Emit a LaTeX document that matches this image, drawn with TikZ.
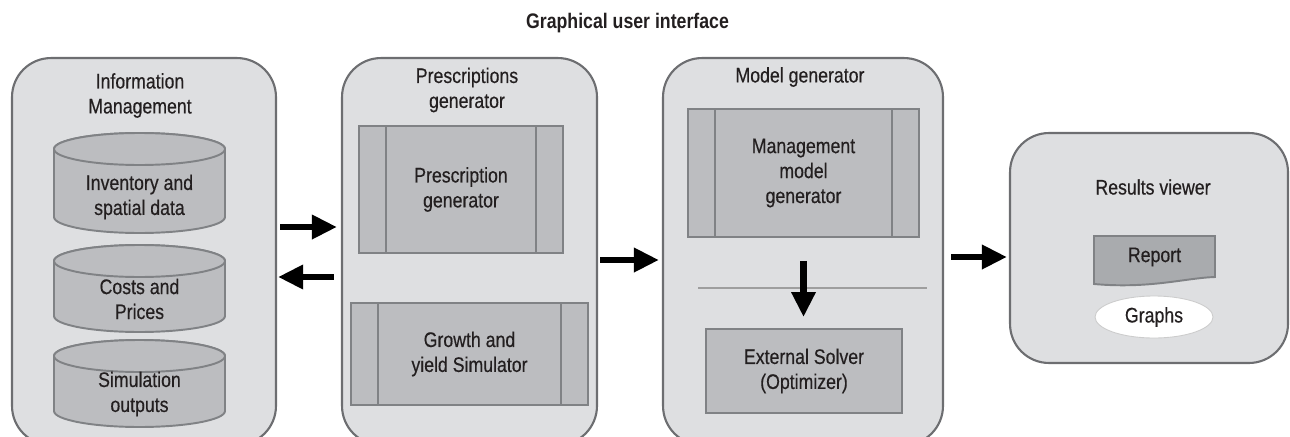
\documentclass[tikz,border=0pt]{standalone}
\usepackage{fontspec}
\setmainfont{Liberation Sans}[FakeStretch=0.84, FakeBold=0.4]
\newfontfamily\titlefont{Liberation Sans}[FakeStretch=0.84]
\usepackage{tikz}
\usetikzlibrary{shapes.geometric,arrows.meta}

\definecolor{panelfill}{HTML}{DEDFE1}
\definecolor{paneldraw}{HTML}{6D6E71}
\definecolor{boxfill}{HTML}{BCBDC0}
\definecolor{boxdraw}{HTML}{808285}
\definecolor{docfill}{HTML}{A9ABAE}
\definecolor{inkcol}{HTML}{231F20}

\begin{document}
\begin{tikzpicture}[x=0.02cm, y=-0.02cm,
    txt/.style={font=\fontsize{12}{14.2}\selectfont, text=inkcol, align=center},
    panel/.style={draw=paneldraw, line width=1.2pt, fill=panelfill, rounded corners=0.78cm},
    plainbox/.style={txt, draw=boxdraw, line width=1.1pt, fill=boxfill, inner sep=0pt},
    procbox/.style={plainbox,
        path picture={
            \draw[boxdraw, line width=1.1pt] ([xshift=0.54cm]path picture bounding box.north west) -- ([xshift=0.54cm]path picture bounding box.south west);
            \draw[boxdraw, line width=1.1pt] ([xshift=-0.54cm]path picture bounding box.north east) -- ([xshift=-0.54cm]path picture bounding box.south east);
        }},
    dbase/.style={draw=boxdraw, line width=1.1pt, fill=boxfill},
    flow/.style={-{Triangle[length=0.5cm,width=0.46cm]}, line width=3.6pt, black}]

    % Page size and clipping at the bottom
    \path[use as bounding box] (0,0) rectangle (1290,436);
    \clip (0,0) rectangle (1290,436);

    % Title
    \node[txt, font=\titlefont\bfseries\fontsize{12}{14.2}\selectfont] (gui) at (627.5,23) {Graphical user interface};

    % Draw the four panels
    \node[panel, minimum width=5.28cm, minimum height=7.74cm] (info) at (144,251.5) {};
    \node[panel, minimum width=5.1cm, minimum height=7.74cm] (presc) at (469.5,251.5) {};
    \node[panel, minimum width=5.6cm, minimum height=7.74cm] (model) at (803,251.5) {};
    \node[panel, minimum width=5.56cm, minimum height=4.6cm] (result) at (1149,248) {};

    % Panel headings
    \node[txt] (infohead) at (140,95.5) {Information\\Management};
    \node[txt] (preschead) at (467,90) {Prescriptions\\generator};
    \node[txt] (modelhead) at (800,77) {Model generator};
    \node[txt] (resulthead) at (1153,187) {Results viewer};

    % Data stores: top, bottom, text position, name, text
    \foreach \top/\bot/\ty/\nm/\lbl in {133/233/197/inv/{Inventory and\\spatial data},
                                        245/332/299/cost/{Costs and\\Prices},
                                        340/427/394/sim/{Simulation\\outputs}} {
        \filldraw[dbase] (54,\top+16) -- (54,\bot-16) arc[start angle=180, end angle=360, x radius=1.71cm, y radius=0.32cm]
            -- (225,\top+16) arc[start angle=0, end angle=180, x radius=1.71cm, y radius=0.32cm] -- cycle;
        \draw[dbase] (139.5,\top+16) ellipse [x radius=1.71cm, y radius=0.32cm];
        \node[txt] (\nm) at (139.5,\ty) {\lbl};
    }

    % Process boxes
    \node[procbox, minimum width=4.08cm, minimum height=2.54cm] (pgen) at (461,189.5) {Prescription\\generator};
    \node[procbox, minimum width=4.74cm, minimum height=2.04cm] (gys) at (469.5,354) {Growth and\\yield Simulator};
    \node[procbox, minimum width=4.62cm, minimum height=2.56cm] (mmg) at (803.5,173) {Management\\model\\generator};
    \node[plainbox, minimum width=3.92cm, minimum height=1.68cm] (solver) at (804,371) {External Solver\\(Optimizer)};

    % Separator in the model panel
    \draw[draw=black!38, line width=0.6pt] (698,288) -- (927,288);

    % Report and graphs
    \filldraw[draw=boxdraw, line width=1.1pt, fill=docfill] (1094,236) -- (1215,236) -- (1215,277)
        .. controls (1185,278) and (1150,289) .. (1094,284) -- cycle;
    \node[txt] (rep) at (1154.5,257) {Report};
    \node[txt, ellipse, draw=black!20, line width=0.5pt, fill=white, minimum width=2.36cm, minimum height=0.84cm, inner sep=0pt] (graphs) at (1154,317) {Graphs};

    % Arrows between the panels
    \coordinate (a1) at ([yshift=0.49cm]info.east);
    \coordinate (a2) at ([yshift=-0.51cm]presc.west);
    \coordinate (a3) at ([yshift=-0.17cm]presc.east);
    \coordinate (a4) at ([yshift=-0.11cm]model.east);
    \draw[flow, shorten <=0.06cm, shorten >=0.08cm] (a1) -- (a1 -| presc.west);
    \draw[flow, shorten <=0.14cm, shorten >=0.02cm] (a2) -- (a2 -| info.east);
    \draw[flow, shorten <=0.04cm, shorten >=0.06cm] (a3) -- (a3 -| model.west);
    \draw[flow, shorten <=0.14cm, shorten >=0.04cm] (a4) -- (a4 -| result.west);
    \draw[flow, shorten <=0.46cm, shorten >=0.22cm] (mmg.south) -- (mmg.south |- solver.north);
\end{tikzpicture}
\end{document}
